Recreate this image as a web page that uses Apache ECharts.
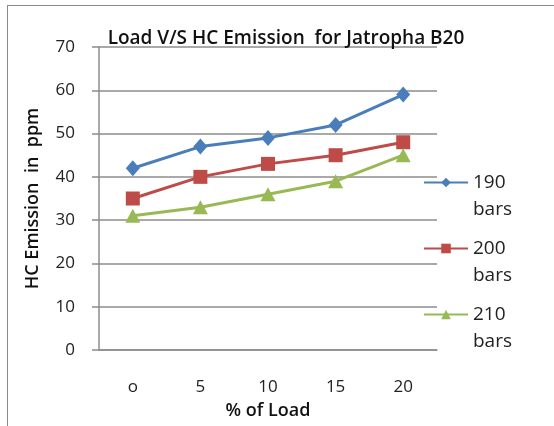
<!DOCTYPE html>
<html>
<head>
<meta charset="utf-8">
<script src="https://cdn.jsdelivr.net/npm/echarts@6/dist/echarts.min.js"></script>
<style>
  html, body { margin: 0; padding: 0; background: #fff; }
  #chart { width: 554px; height: 426px; }
  .frame {
    position: absolute; left: 7px; top: 5px; right: 0; bottom: 0;
    border-left: 1.5px solid #8a8a8a; border-top: 1.5px solid #8a8a8a;
    pointer-events: none;
  }
</style>
</head>
<body>
<div id="chart"></div>
<div class="frame"></div>
<script>
const categories = ['o', '5', '10', '15', '20']
const seriesNames = ['190 bars', '200 bars', '210 bars']
const bars190 = [42, 47, 49, 52, 59]
const bars200 = [35, 40, 43, 45, 48]
const bars210 = [31, 33, 36, 39, 45]
const yTicks = [0, 10, 20, 30, 40, 50, 60, 70]

const font = '"Open Sans", "DejaVu Sans", sans-serif'
const gridColor = '#8c8c8c'

const chart = echarts.init(document.getElementById('chart'))

const makeSeries = (name, data, color, symbol, size) => ({
  name,
  type: 'line',
  data,
  symbol,
  symbolSize: size,
  lineStyle: { color, width: 3 },
  itemStyle: { color, borderWidth: 0 },
  emphasis: { disabled: true },
  animation: false
})

chart.setOption({
  animation: false,
  title: {
    text: 'Load V/S HC Emission  for Jatropha B20',
    left: 281,
    textAlign: 'center',
    top: 24,
    textStyle: { fontFamily: font, fontSize: 19, fontWeight: 600, color: '#111' }
  },
  grid: { left: 99, right: 117, top: 47, bottom: 76 },
  legend: {
    orient: 'vertical',
    left: 423,
    top: 142,
    padding: 0,
    itemWidth: 44,
    itemHeight: 12,
    itemGap: -15,
    data: seriesNames,
    // blank first line keeps the number level with the icon
    formatter: name => ' \n' + name.replace(' ', '\n'),
    textStyle: { fontFamily: font, fontSize: 19, color: '#222', lineHeight: 27 }
  },
  xAxis: {
    type: 'category',
    data: categories,
    name: '% of Load',
    nameLocation: 'middle',
    nameGap: 52,
    nameTextStyle: { fontFamily: font, fontSize: 18, fontWeight: 600, color: '#111' },
    axisLine: { lineStyle: { color: gridColor, width: 1.5 } },
    axisTick: { show: false },
    axisLabel: { margin: 29, fontFamily: font, fontSize: 17, color: '#222' }
  },
  yAxis: {
    type: 'value',
    min: yTicks[0],
    max: yTicks[yTicks.length - 1],
    interval: 10,
    name: 'HC Emission  in  ppm',
    nameLocation: 'middle',
    nameGap: 57,
    nameTextStyle: { fontFamily: font, fontSize: 18, fontWeight: 600, color: '#111' },
    axisLine: { show: true, lineStyle: { color: gridColor, width: 1.5 } },
    axisTick: { show: true, length: 7, lineStyle: { color: gridColor, width: 1.5 } },
    axisLabel: { margin: 24, fontFamily: font, fontSize: 17, color: '#222' },
    splitLine: { lineStyle: { color: gridColor, width: 1.5 } }
  },
  series: [
    makeSeries(seriesNames[0], bars190, '#4a7ebb', 'diamond', [14, 16]),
    makeSeries(seriesNames[1], bars200, '#be4b48', 'rect', 14),
    makeSeries(seriesNames[2], bars210, '#98b954', 'triangle', [15, 14])
  ]
})
</script>
</body>
</html>
